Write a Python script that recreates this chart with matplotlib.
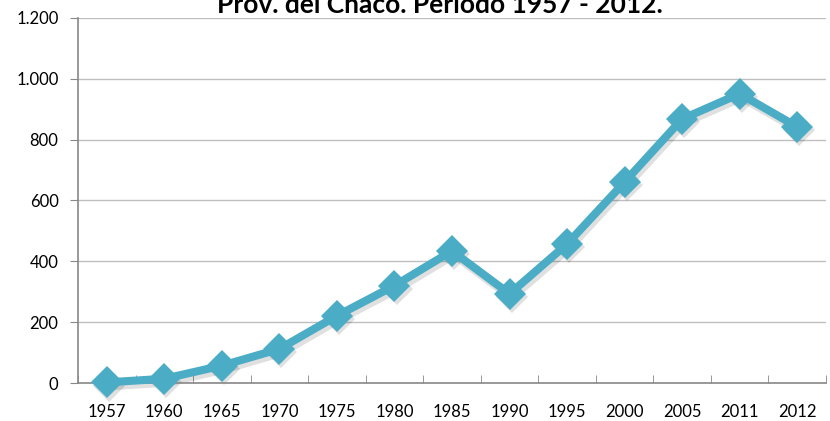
import matplotlib
matplotlib.use("Agg")
import matplotlib.pyplot as plt
import matplotlib.transforms as mtransforms
from matplotlib.ticker import FuncFormatter, MultipleLocator, FixedLocator

years = ["1957", "1960", "1965", "1970", "1975", "1980", "1985", "1990",
         "1995", "2000", "2005", "2011", "2012"]
values = [2, 14, 57, 112, 221, 320, 434, 293, 457, 661, 868, 951, 842]
title = "Prov. del Chaco. Período 1957 - 2012."

plt.rcParams['font.family'] = ['Lato', 'DejaVu Sans']

fig = plt.figure(figsize=(8.3, 4.21), dpi=100)
ax = fig.add_axes([78/830, 1-383/421, (826-78)/830, (383-18)/421])

x = list(range(len(years)))
shadow_tr = mtransforms.offset_copy(ax.transData, fig=fig, x=1.5, y=-2.5, units='points')
ax.plot(x, values, color="black", alpha=0.12, lw=6.5, marker="D", ms=16,
        markeredgewidth=0, transform=shadow_tr, zorder=2, clip_on=False)
ax.plot(x, values, color="#4BACC6", lw=5.8, marker="D", ms=16.5,
        markeredgewidth=0, zorder=3, clip_on=False)

ax.set_xlim(-0.5, len(years)-0.5)
ax.set_ylim(0, 1200)
ax.yaxis.set_major_locator(MultipleLocator(200))
ax.yaxis.set_major_formatter(FuncFormatter(lambda v, p: f"{int(v):,}".replace(",", ".")))
ax.set_xticks(x)
ax.set_xticklabels(years)
ax.xaxis.set_minor_locator(FixedLocator([i - 0.5 for i in range(len(years)+1)]))
ax.tick_params(axis='x', which='major', length=0, pad=15, labelsize=12)
ax.tick_params(axis='x', which='minor', length=6, color="#888888", direction='in')
ax.tick_params(axis='y', length=6, color="#888888", direction='out', pad=8, labelsize=12)

ax.grid(axis='y', color="#BFBFBF", lw=1)
ax.set_axisbelow(True)
for s in ['top', 'right']:
    ax.spines[s].set_visible(False)
for s in ['left', 'bottom']:
    ax.spines[s].set_color("#888888")
    ax.spines[s].set_linewidth(1.2)

fig.text(0.53, 1-13/421, title, ha='center', va='baseline', fontsize=19, fontweight='bold')

fig.savefig("out.png", dpi=100)
